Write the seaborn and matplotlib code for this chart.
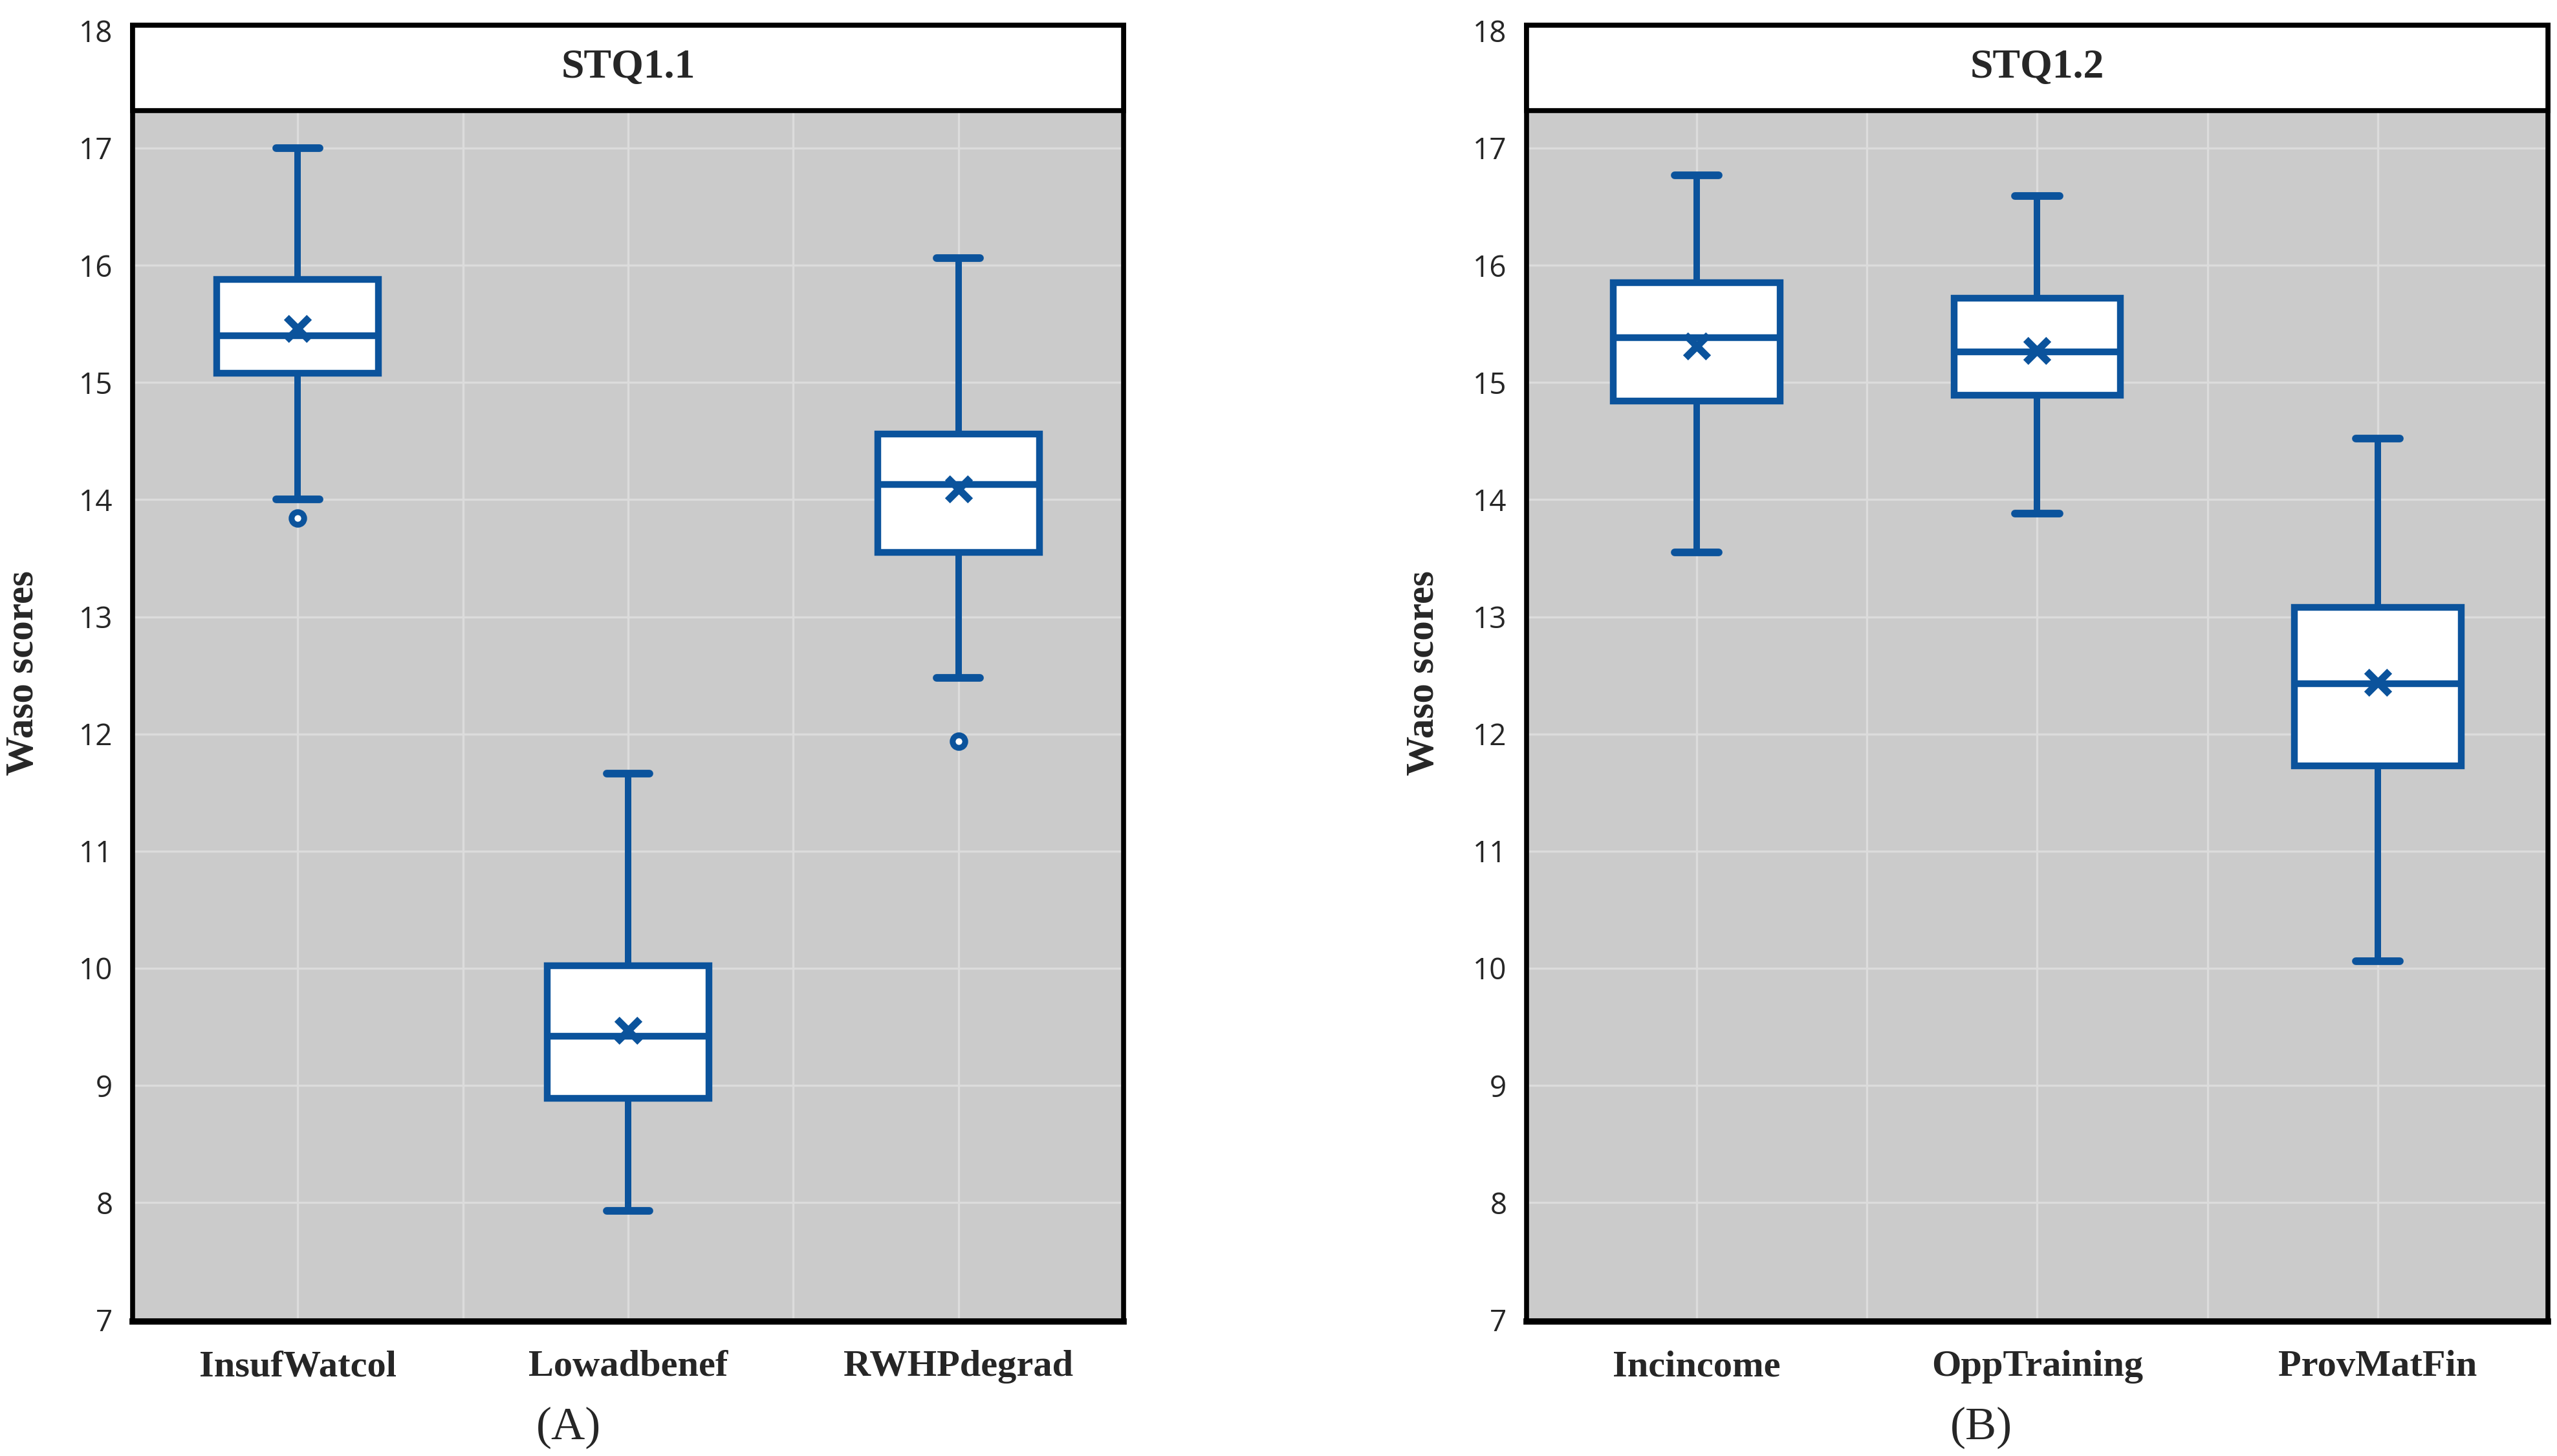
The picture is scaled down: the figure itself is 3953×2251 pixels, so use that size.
import matplotlib
matplotlib.use("Agg")
import matplotlib.pyplot as plt
import seaborn as sns
from matplotlib.patches import Rectangle

# panel A (STQ1.1)
categories_a = ["InsufWatcol", "Lowadbenef", "RWHPdegrad"]
whislo_a = [14.0, 7.93, 12.48]
q1_a = [15.08, 8.89, 13.55]
med_a = [15.40, 9.42, 14.13]
q3_a = [15.88, 10.02, 14.56]
whishi_a = [17.0, 11.66, 16.06]
mean_a = [15.46, 9.47, 14.09]
fliers_a = [[13.84], [], [11.94]]

# panel B (STQ1.2)
categories_b = ["Incincome", "OppTraining", "ProvMatFin"]
whislo_b = [13.55, 13.88, 10.06]
q1_b = [14.84, 14.89, 11.73]
med_b = [15.38, 15.26, 12.43]
q3_b = [15.85, 15.72, 13.08]
whishi_b = [16.77, 16.59, 14.52]
mean_b = [15.31, 15.27, 12.44]
fliers_b = [[], [], []]

BLUE = "#0b539c"
W, H = 3953, 2251

sns.set_style("darkgrid", {"axes.facecolor": "#cbcbcb", "grid.color": "#dcdcdc"})
plt.rcParams["font.family"] = ["Open Sans", "DejaVu Sans"]

fig = plt.figure(figsize=(W / 100, H / 100), dpi=100)


def panel(rect, cats, lo, q1, med, q3, hi, means, fliers, title, tag, tag_x, ylab_x):
    ax = fig.add_axes(rect)
    stats = []
    for i in range(len(cats)):
        stats.append(dict(whislo=lo[i], q1=q1[i], med=med[i], q3=q3[i],
                          whishi=hi[i], fliers=fliers[i], label=cats[i]))
    ax.bxp(stats, positions=[0, 1, 2], widths=0.49, capwidths=0.13,
           patch_artist=True, showmeans=False,
           boxprops=dict(facecolor="white", edgecolor=BLUE, linewidth=7.5),
           medianprops=dict(color=BLUE, linewidth=7.5),
           whiskerprops=dict(color=BLUE, linewidth=7.2),
           capprops=dict(color=BLUE, linewidth=8.5),
           flierprops=dict(marker="o", markerfacecolor="white",
                           markeredgecolor=BLUE, markersize=14,
                           markeredgewidth=6.5),
           zorder=4)
    sns.scatterplot(x=[0, 1, 2], y=means, marker="x", s=650, color=BLUE,
                    linewidth=8, ax=ax, zorder=6, legend=False)

    ax.set_xlim(-0.5, 2.5)
    ax.set_ylim(6.985, 18.05)
    ax.set_yticks(range(7, 19))
    ax.set_xticks([0, 1, 2])
    ax.set_xticklabels(cats, family="Liberation Serif", fontweight="bold",
                       fontsize=42)
    ax.set_xticks([-0.5, 0.5, 1.5, 2.5], minor=True)
    ax.grid(True, which="both", color="#dcdcdc", linewidth=2.4)
    ax.set_axisbelow(True)
    ax.tick_params(axis="y", labelsize=33, pad=22, length=0)
    ax.tick_params(axis="x", pad=32, length=0, which="both")
    for s in ax.spines.values():
        s.set_visible(True)
        s.set_color("black")
        s.set_linewidth(5.5)
    ax.spines["bottom"].set_linewidth(7)

    # facet strip on top
    ax.add_patch(Rectangle((-0.5, 17.32), 3, 0.73, facecolor="white",
                           edgecolor="black", linewidth=5.5, zorder=7,
                           clip_on=False))
    ax.text(1, (17.32 + 18.05) / 2, title, ha="center", va="center",
            family="Liberation Serif", fontweight="bold", fontsize=46,
            zorder=8)

    ax.set_ylabel("Waso scores", family="Liberation Serif",
                  fontweight="bold", fontsize=44)
    ax.yaxis.set_label_coords(ylab_x, 0.5)
    ax.set_xlabel("")
    fig.text(tag_x / W, 1 - 2207 / H, tag, ha="center", va="center",
             family="Liberation Serif", fontsize=52)
    return ax


top, bot = 38.8, 2043
panel([205 / W, 1 - bot / H, (1737 - 205) / W, (bot - top) / H],
      categories_a, whislo_a, q1_a, med_a, q3_a, whishi_a, mean_a, fliers_a,
      "STQ1.1", "(A)", 879, -0.092)
panel([2360 / W, 1 - bot / H, (3939 - 2360) / W, (bot - top) / H],
      categories_b, whislo_b, q1_b, med_b, q3_b, whishi_b, mean_b, fliers_b,
      "STQ1.2", "(B)", 3063, -0.083)

fig.savefig("out.png", dpi=100, facecolor="white")
